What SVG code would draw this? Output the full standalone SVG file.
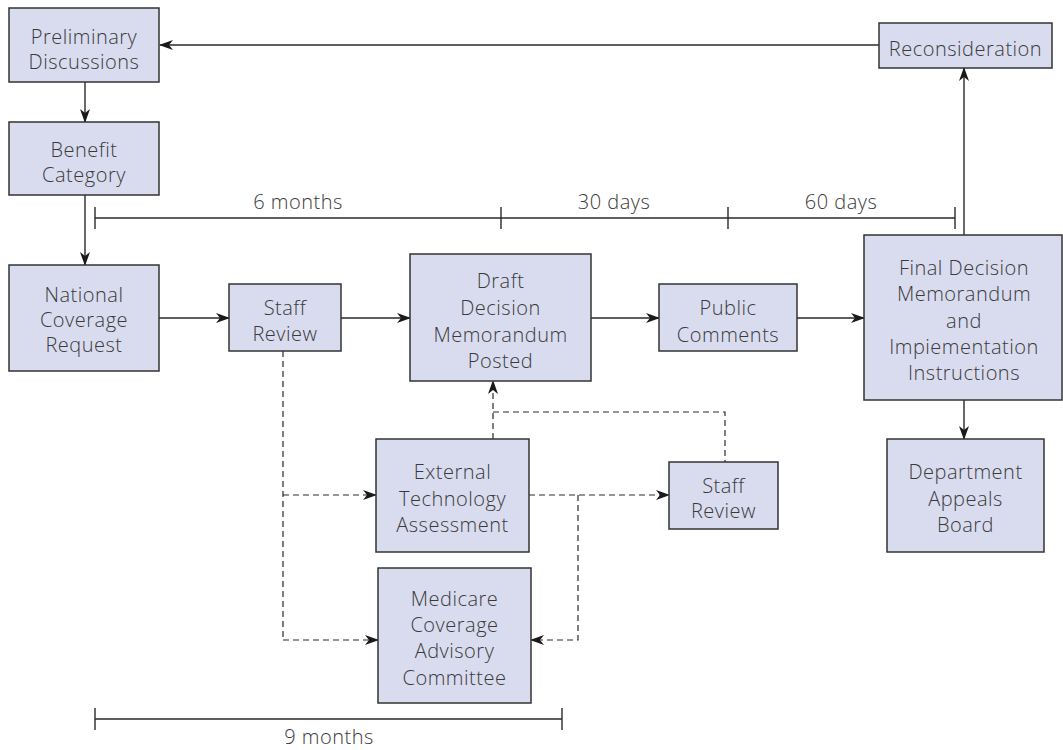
<svg xmlns="http://www.w3.org/2000/svg" width="1063" height="750" viewBox="0 0 1063 750">
<style>
.box{fill:#d9dcef;stroke:#333;stroke-width:1.5}
.t{font-family:"Open Sans","Liberation Sans",sans-serif;font-weight:300;font-size:20px;letter-spacing:0.5px;fill:#3a3a3a;text-anchor:middle}
.c{fill:none;stroke:#2a2a2a;stroke-width:1.4}
.d{fill:none;stroke:#2a2a2a;stroke-width:1.2;stroke-dasharray:6 4}
.a{marker-end:url(#ah)}
</style>
<defs>
<marker id="ah" viewBox="0 0 14 10" refX="13" refY="5" markerWidth="14" markerHeight="10" markerUnits="userSpaceOnUse" orient="auto">
<path d="M0,0 L14,5 L0,10 L4,5 Z" fill="#1a1a1a"/>
</marker>
</defs>
<rect width="1063" height="750" fill="#fff"/>
<g id="connectors">
<line class="c a" x1="879" y1="45" x2="160" y2="45"/>
<line class="c a" x1="85" y1="82" x2="85" y2="122"/>
<line class="c a" x1="85" y1="195" x2="85" y2="265"/>
<line class="c a" x1="159" y1="318" x2="229" y2="318"/>
<line class="c a" x1="341" y1="318" x2="410" y2="318"/>
<line class="c a" x1="591" y1="318" x2="659" y2="318"/>
<line class="c a" x1="797" y1="318" x2="864" y2="318"/>
<line class="c a" x1="964" y1="235" x2="964" y2="68"/>
<line class="c a" x1="964" y1="400" x2="964" y2="439"/>
<polyline class="d" points="283,351 283,640"/>
<line class="d a" x1="283" y1="495" x2="376" y2="495"/>
<line class="d a" x1="283" y1="640" x2="378" y2="640"/>
<line class="d a" x1="529" y1="495" x2="669" y2="495"/>
<polyline class="d a" points="578,495 578,640 531,640"/>
<line class="d a" x1="493" y1="439" x2="493" y2="381"/>
<polyline class="d" points="493,412 725,412 725,462"/>
</g>
<g id="timeline-top">
<line class="c" x1="95" y1="218" x2="955" y2="218"/>
<line class="c" x1="95" y1="207" x2="95" y2="229"/>
<line class="c" x1="501" y1="207" x2="501" y2="229"/>
<line class="c" x1="728" y1="207" x2="728" y2="229"/>
<line class="c" x1="955" y1="207" x2="955" y2="229"/>
<text class="t" x="298" y="209">6 months</text>
<text class="t" x="614" y="209">30 days</text>
<text class="t" x="841" y="209">60 days</text>
</g>
<g id="timeline-bottom">
<line class="c" x1="95" y1="719" x2="562" y2="719"/>
<line class="c" x1="95" y1="708" x2="95" y2="730"/>
<line class="c" x1="562" y1="708" x2="562" y2="730"/>
<text class="t" x="329" y="744">9 months</text>
</g>
<g id="prelim"><rect class="box" x="9" y="8" width="150" height="74"/><text class="t" x="84" y="44">Preliminary</text><text class="t" x="84" y="69">Discussions</text></g>
<g id="benefit"><rect class="box" x="9" y="122" width="150" height="73"/><text class="t" x="84" y="157">Benefit</text><text class="t" x="84" y="182">Category</text></g>
<g id="reconsideration"><rect class="box" x="879" y="23" width="173" height="45"/><text class="t" x="965.5" y="56">Reconsideration</text></g>
<g id="national"><rect class="box" x="9" y="265" width="150" height="106"/><text class="t" x="84" y="302">National</text><text class="t" x="84" y="327">Coverage</text><text class="t" x="84" y="352">Request</text></g>
<g id="staff1"><rect class="box" x="229" y="284" width="112" height="67"/><text class="t" x="285" y="315">Staff</text><text class="t" x="285" y="341">Review</text></g>
<g id="draft"><rect class="box" x="410" y="254" width="181" height="127"/><text class="t" x="500.5" y="288">Draft</text><text class="t" x="500.5" y="315">Decision</text><text class="t" x="500.5" y="342">Memorandum</text><text class="t" x="500.5" y="368">Posted</text></g>
<g id="public"><rect class="box" x="659" y="284" width="138" height="67"/><text class="t" x="728" y="315">Public</text><text class="t" x="728" y="342">Comments</text></g>
<g id="final"><rect class="box" x="864" y="235" width="198" height="165"/><text class="t" x="964" y="275">Final Decision</text><text class="t" x="964" y="301">Memorandum</text><text class="t" x="964" y="328">and</text><text class="t" x="964" y="354">Impiementation</text><text class="t" x="964" y="380">Instructions</text></g>
<g id="dab"><rect class="box" x="887" y="439" width="157" height="113"/><text class="t" x="965.5" y="479">Department</text><text class="t" x="965.5" y="506">Appeals</text><text class="t" x="965.5" y="532">Board</text></g>
<g id="eta"><rect class="box" x="376" y="439" width="153" height="113"/><text class="t" x="452.5" y="479">External</text><text class="t" x="452.5" y="506">Technology</text><text class="t" x="452.5" y="532">Assessment</text></g>
<g id="staff2"><rect class="box" x="669" y="462" width="109" height="67"/><text class="t" x="723.5" y="493">Staff</text><text class="t" x="723.5" y="518">Review</text></g>
<g id="mcac"><rect class="box" x="378" y="568" width="153" height="135"/><text class="t" x="454.5" y="606">Medicare</text><text class="t" x="454.5" y="632">Coverage</text><text class="t" x="454.5" y="658">Advisory</text><text class="t" x="454.5" y="685">Committee</text></g>
</svg>
